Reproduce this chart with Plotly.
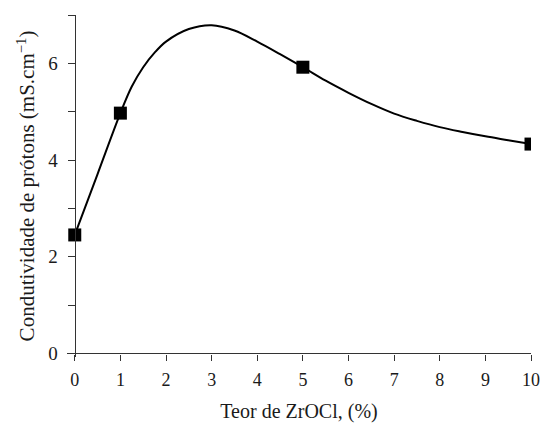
import plotly.graph_objects as go

# measured points
x_pts = [0, 1, 5, 10]
y_pts = [2.45, 4.97, 5.92, 4.33]

# fitted curve
curve_x = [0, 0.5, 1, 1.25, 1.5, 1.75, 2, 2.5, 3, 3.5, 4, 4.5, 5, 5.5, 6, 6.5, 7, 7.5, 8, 8.5, 9, 9.5, 10]
curve_y = [2.45, 3.71, 4.97, 5.52, 5.92, 6.22, 6.45, 6.71, 6.79, 6.68, 6.45, 6.19, 5.92,
           5.64, 5.39, 5.16, 4.96, 4.81, 4.68, 4.58, 4.49, 4.41, 4.33]

x_ticks = list(range(0, 11))
y_ticks = list(range(0, 8))
y_ticktext = ["0", "", "2", "", "4", "", "6", ""]

FONT = "Liberation Serif, Times New Roman, serif"
AX = "#333333"

xmin, ymin = -0.17, -0.075

fig = go.Figure()
fig.add_trace(go.Scatter(x=curve_x, y=curve_y, mode="lines",
                         line=dict(color="black", width=2, shape="spline", smoothing=1.0),
                         hoverinfo="skip", showlegend=False))
fig.add_trace(go.Scatter(x=x_pts, y=y_pts, mode="markers",
                         marker=dict(symbol="square", size=13, color="black"),
                         showlegend=False))

fig.update_layout(
    width=543, height=429,
    margin=dict(l=66.5, r=12.3, t=15, b=72.4),
    paper_bgcolor="white", plot_bgcolor="white",
    font=dict(family=FONT, color="#1a1a1a", size=18),
    xaxis=dict(range=[xmin, 10], tickvals=x_ticks, ticks="outside", ticklen=6,
               tickcolor=AX, showline=True, linecolor=AX, linewidth=1.3,
               showgrid=False, zeroline=False, anchor="free", automargin=False,
               position=(-ymin) / (7 - ymin), ticklabelstandoff=4,
               tickfont=dict(size=18),
               title=dict(text="Teor de ZrOCl, (%)", font=dict(size=20), standoff=14)),
    yaxis=dict(range=[ymin, 7], tickvals=y_ticks, ticktext=y_ticktext, ticks="outside",
               ticklen=7, tickcolor=AX, showline=True, linecolor=AX, linewidth=1.3,
               showgrid=False, zeroline=False, anchor="free", automargin=False,
               position=(-xmin) / (10 - xmin), ticklabelstandoff=6,
               tickfont=dict(size=19),
               title=dict(text="Condutividade de prótons (mS.cm<sup>−1</sup>)",
                          font=dict(size=21), standoff=6)),
)

fig.write_html("out.html")
